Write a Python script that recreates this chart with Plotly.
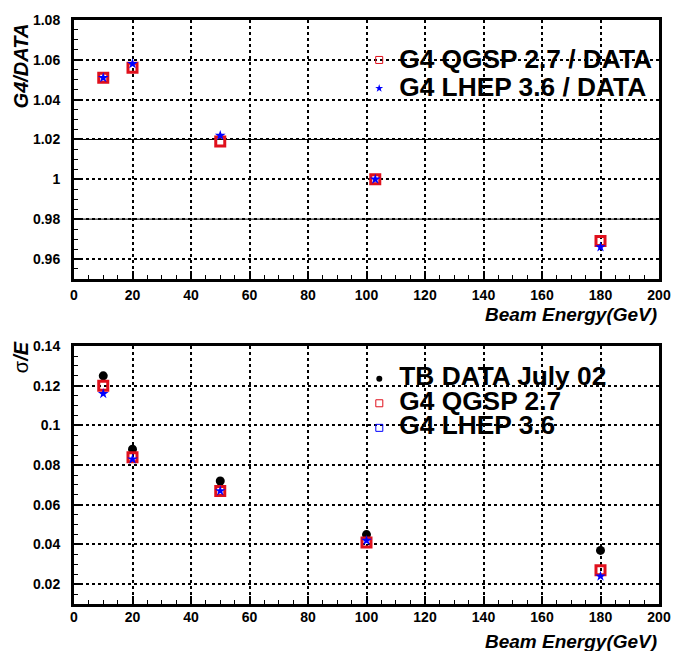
import plotly.graph_objects as go

# ---- data ----
energy_ratio = [10, 20, 50, 103, 180]
qgsp_ratio = [1.051, 1.056, 1.019, 1.000, 0.969]
lhep_ratio = [1.051, 1.058, 1.022, 1.000, 0.966]
ratio_band = [0.98, 1.02]

energy_res = [10, 20, 50, 100, 180]
data_res = [0.125, 0.088, 0.072, 0.045, 0.037]
qgsp_res = [0.120, 0.084, 0.067, 0.041, 0.027]
lhep_res = [0.116, 0.083, 0.067, 0.042, 0.024]

RED = "#e0101c"
BLUE = "#0000ff"
FONT = "Liberation Sans"

fig = go.Figure()

# top panel
fig.add_trace(go.Scatter(x=energy_ratio, y=qgsp_ratio, mode="markers", showlegend=False,
                         marker=dict(symbol="square-open", size=9, color=RED, line=dict(width=3, color=RED)),
                         xaxis="x", yaxis="y"))
fig.add_trace(go.Scatter(x=energy_ratio, y=lhep_ratio, mode="markers", showlegend=False,
                         marker=dict(symbol="star", size=8, color=BLUE, line=dict(width=0)),
                         xaxis="x", yaxis="y"))
# bottom panel
fig.add_trace(go.Scatter(x=energy_res, y=data_res, mode="markers", showlegend=False,
                         marker=dict(symbol="circle", size=9, color="black"),
                         xaxis="x2", yaxis="y2"))
fig.add_trace(go.Scatter(x=energy_res, y=qgsp_res, mode="markers", showlegend=False,
                         marker=dict(symbol="square-open", size=9, color=RED, line=dict(width=3, color=RED)),
                         xaxis="x2", yaxis="y2"))
fig.add_trace(go.Scatter(x=energy_res, y=lhep_res, mode="markers", showlegend=False,
                         marker=dict(symbol="star", size=8, color=BLUE, line=dict(width=0)),
                         xaxis="x2", yaxis="y2"))

def lt(s):
    return "<span style='font-size:26.3px'><b>" + s + "</b></span>"

# legend entries (no data points)
fig.add_trace(go.Scatter(x=[None], y=[None], mode="markers", name=lt("G4 QGSP 2.7 / DATA"), legend="legend",
                         marker=dict(symbol="square-open", size=7, color=RED, line=dict(width=1, color=RED)),
                         xaxis="x", yaxis="y"))
fig.add_trace(go.Scatter(x=[None], y=[None], mode="markers", name=lt("G4 LHEP 3.6 / DATA"), legend="legend",
                         marker=dict(symbol="star", size=6, color=BLUE, line=dict(width=0)),
                         xaxis="x", yaxis="y"))
fig.add_trace(go.Scatter(x=[None], y=[None], mode="markers", name=lt("TB DATA July 02"), legend="legend2",
                         marker=dict(symbol="circle", size=6, color="black"),
                         xaxis="x2", yaxis="y2"))
fig.add_trace(go.Scatter(x=[None], y=[None], mode="markers", name=lt("G4 QGSP 2.7"), legend="legend2",
                         marker=dict(symbol="square-open", size=7, color=RED, line=dict(width=1, color=RED)),
                         xaxis="x2", yaxis="y2"))
fig.add_trace(go.Scatter(x=[None], y=[None], mode="markers", name=lt("G4 LHEP 3.6"), legend="legend2",
                         marker=dict(symbol="square-open", size=7, color=BLUE, line=dict(width=1, color=BLUE)),
                         xaxis="x2", yaxis="y2"))

for yv in ratio_band:
    fig.add_hline(y=yv, line=dict(color="black", width=1), xref="x", yref="y", layer="below")

tickfont = dict(family=FONT, size=14, color="black", weight="bold")

def xax(domain_anchor, standoff):
    return dict(range=[0, 200], dtick=20, tick0=0, ticks="inside", ticklen=8, tickwidth=1.5,
                tickcolor="black", showline=True, linecolor="black", linewidth=3, mirror=True,
                showgrid=True, gridcolor="black", gridwidth=1.5, griddash="dot",
                zeroline=False, tickfont=tickfont, anchor=domain_anchor, domain=[0, 1],
                ticklabelstandoff=standoff,
                minor=dict(dtick=5, ticks="inside", ticklen=4, tickwidth=1.2, tickcolor="black"))

def yax(rng, t0, dom, anchor):
    return dict(range=rng, dtick=0.02, tick0=t0, ticks="inside", ticklen=8, tickwidth=1.5,
                tickcolor="black", showline=True, linecolor="black", linewidth=3, mirror=True,
                showgrid=True, gridcolor="black", gridwidth=1.5, griddash="dot",
                zeroline=False, tickfont=tickfont, anchor=anchor, domain=dom,
                ticklabelstandoff=8,
                minor=dict(dtick=0.005, ticks="inside", ticklen=4, tickwidth=1.2, tickcolor="black"))

fig.update_layout(
    width=683, height=651,
    margin=dict(l=74, r=13, t=13, b=47),
    paper_bgcolor="white", plot_bgcolor="white",
    xaxis=xax("y", 1),
    yaxis=yax([0.95, 1.08], 0.96, [0.5567, 1.0], "x"),
    xaxis2=xax("y2", -2),
    yaxis2=yax([0.01, 0.14], 0.0, [0.0, 0.4416], "x2"),
    legend=dict(x=0.4875, y=0.9644, xanchor="left", yanchor="top", bgcolor="rgba(0,0,0,0)",
                borderwidth=0, font=dict(family=FONT, size=19.5, color="black"), tracegroupgap=0),
    legend2=dict(x=0.4877, y=0.4154, xanchor="left", yanchor="top", bgcolor="rgba(0,0,0,0)",
                 borderwidth=0, font=dict(family=FONT, size=16.6, color="black"), tracegroupgap=0),
    annotations=[
        dict(text="<b><i>Beam Energy(GeV)</i></b>", xref="paper", yref="paper", x=1.0, y=0.4958,
             xanchor="right", yanchor="middle", showarrow=False,
             font=dict(family=FONT, size=19, color="black")),
        dict(text="<b><i>Beam Energy(GeV)</i></b>", xref="paper", yref="paper", x=1.0, y=-0.0643,
             xanchor="right", yanchor="middle", showarrow=False,
             font=dict(family=FONT, size=19, color="black")),
        dict(text="<b><i>G4/DATA</i></b>", xref="paper", yref="paper", x=-0.0906, y=0.9985,
             xanchor="center", yanchor="top", textangle=-90, showarrow=False,
             font=dict(family=FONT, size=20, color="black")),
        dict(text="σ<b><i>/E</i></b>", xref="paper", yref="paper", x=-0.0906, y=0.4535,
             xanchor="center", yanchor="top", textangle=-90, showarrow=False,
             font=dict(family=FONT, size=20, color="black")),
    ],
)

fig.write_html("out.html")
